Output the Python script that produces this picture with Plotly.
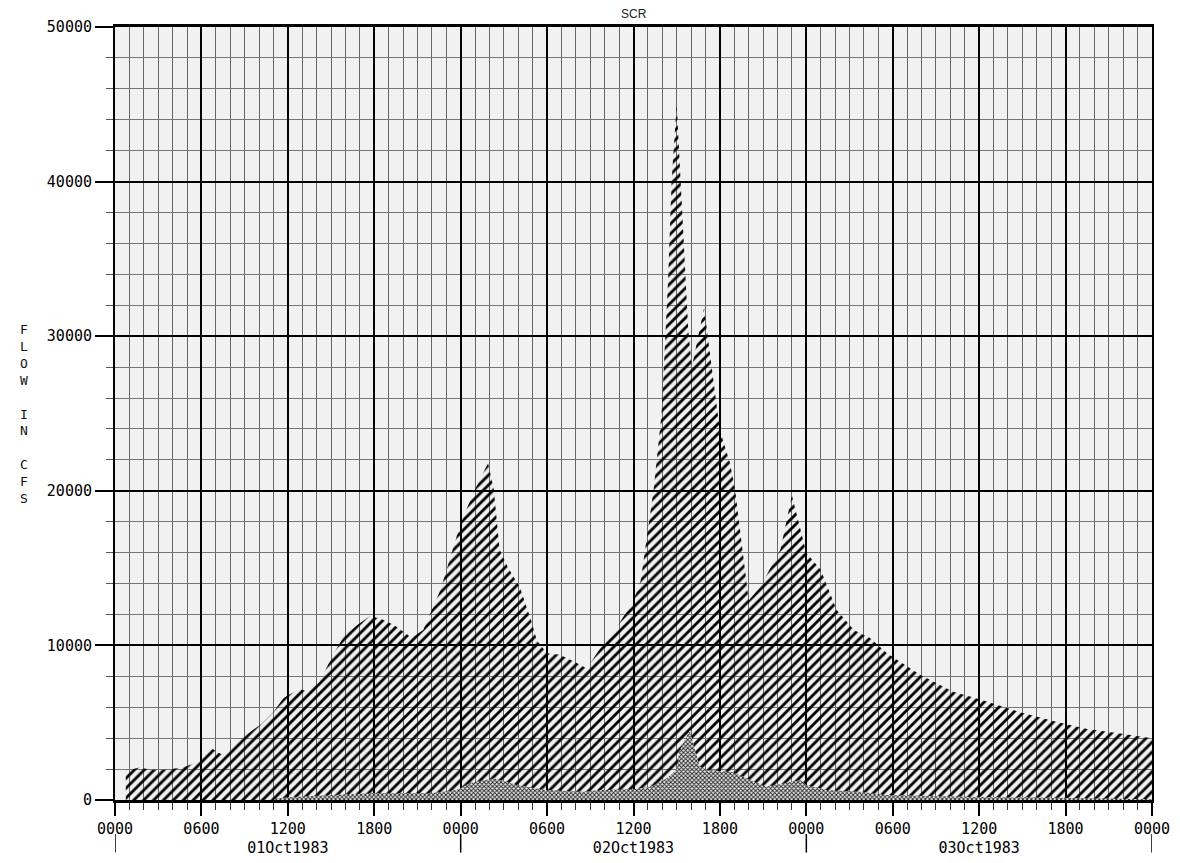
import plotly.graph_objects as go

# ---- data (hours after 0000 01Oct1983, flow in cfs) ----
total_hours = [0.75, 1.7, 2.5, 3.5, 4.3, 5.0, 5.7, 6.7, 7.5, 8.3, 9.1, 10.2, 11.0, 11.7,
               12.8, 13.4, 14.2, 15.2, 15.9, 16.8, 17.7, 18.5, 19.4, 20.6, 21.4, 22.6,
               24.0, 24.9, 25.9, 26.3, 26.7, 27.3, 28.1, 28.9, 29.3, 30.0, 30.9, 32.0,
               32.75, 33.9, 34.6, 36.0, 36.5, 37.4, 37.95, 38.2, 38.4, 38.65, 39.0,
               39.8, 40.05, 40.9, 41.55, 42.0, 42.7, 43.05, 44.0, 44.8, 46.2, 47.0,
               48.0, 49.0, 50.1, 51.3, 52.4, 53.6, 55.9, 58.2, 60.1, 62.8, 65.2, 67.5,
               69.8, 72.0]
total_flow = [1900, 2100, 1950, 1950, 2050, 2200, 2450, 3350, 2900, 3600, 4200, 4950, 5700, 6600,
              7200, 7000, 7650, 9500, 10600, 11300, 11900, 11700, 11300, 10500, 11000, 13600,
              17900, 19900, 21800, 20100, 16200, 15000, 13800, 11600, 10300, 9500, 9400, 8900,
              8500, 10100, 10800, 12900, 14200, 20100, 25000, 29300, 33600, 40100, 45000,
              30400, 28000, 31800, 27200, 23900, 21800, 20100, 12900, 13800, 16200, 19700,
              16000, 14900, 12300, 11000, 10500, 9500, 8100, 7000, 6500, 5700, 5100, 4600,
              4300, 4000]

local_hours = [11.0, 11.2, 12.2, 15.6, 17.7, 21.9, 23.7, 24.65, 25.6, 26.3, 27.9, 29.9,
               32.5, 33.7, 36.0, 37.2, 38.3, 39.0, 39.2, 39.9, 40.6, 41.1, 42.9, 43.9,
               45.2, 47.6, 48.0, 49.4, 51.7, 53.6, 60.0, 68.9, 72.0]
local_flow = [0, 100, 200, 320, 430, 430, 650, 1100, 1300, 1400, 970, 650,
              540, 650, 700, 860, 1400, 1950, 3200, 4500, 2150, 1950, 1800, 1400,
              860, 1300, 970, 650, 540, 320, 200, 100, 50]

tick_hours = [0, 6, 12, 18, 24, 30, 36, 42, 48, 54, 60, 66, 72]
tick_labels = ["0000", "0600", "1200<br>01Oct1983", "1800",
               "0000", "0600", "1200<br>02Oct1983", "1800",
               "0000", "0600", "1200<br>03Oct1983", "1800", "0000"]
day_bounds = [0, 24, 48, 72]

title_text = "SCR"
ylabel_text = "F<br>L<br>O<br>W<br><br>I<br>N<br><br>C<br>F<br>S"

mono = "DejaVu Sans Mono"

fig = go.Figure()

fig.add_trace(go.Scatter(
    x=total_hours, y=total_flow, mode="lines", fill="tozeroy",
    line=dict(width=0, color="black"),
    fillcolor="rgba(0,0,0,0)",
    fillpattern=dict(shape="/", size=7, solidity=0.4, fgcolor="black",
                     fgopacity=1, fillmode="overlay"),
    hoverinfo="x+y", showlegend=False))

fig.add_trace(go.Scatter(
    x=local_hours, y=local_flow, mode="lines", fill="tozeroy",
    line=dict(width=0, color="#444"),
    fillcolor="#e4e4e4",
    fillpattern=dict(shape="x", size=3, solidity=0.5, fgcolor="#222",
                     bgcolor="#e8e8e8", fillmode="replace"),
    hoverinfo="x+y", showlegend=False))

# long ticks at day boundaries below the labels
for d in day_bounds:
    fig.add_shape(type="line", xref="x", yref="y domain",
                  x0=d, x1=d, y0=-0.044, y1=-0.068,
                  line=dict(color="black", width=1.5))

fig.add_annotation(text=title_text, xref="paper", yref="paper",
                   x=0.5, y=1.017, yanchor="middle", showarrow=False,
                   font=dict(family="Liberation Sans, Arial", size=12, color="#222"))
fig.add_annotation(text=ylabel_text, xref="paper", yref="paper",
                   x=-0.0935, y=0.5, showarrow=False, align="center",
                   font=dict(family=mono, size=13, color="#111"))

# the page adds an 8px body margin, so the figure is 8px smaller
fig.update_layout(
    width=1172, height=855,
    margin=dict(l=107, r=28, t=19, b=63, autoexpand=False),
    paper_bgcolor="white", plot_bgcolor="#f1f1f1",
    font=dict(family=mono, size=15, color="black"),
)

fig.update_xaxes(
    range=[0, 72], tickmode="array", tickvals=tick_hours, ticktext=tick_labels,
    ticks="outside", ticklen=13, tickwidth=1.5, tickcolor="black",
    showline=True, linecolor="black", linewidth=2.5, mirror=True,
    showgrid=True, gridcolor="black", gridwidth=2,
    zeroline=False, automargin=False,
    tickfont=dict(family=mono, size=15, color="black"),
    minor=dict(tickmode="linear", tick0=0, dtick=1, ticks="outside", ticklen=7,
               tickcolor="#333", tickwidth=1, showgrid=True, gridcolor="#666",
               gridwidth=1.3),
)

fig.update_yaxes(
    range=[0, 50000], tickmode="linear", tick0=0, dtick=10000, tickformat="d",
    ticks="outside", ticklen=18, tickwidth=1.5, tickcolor="black",
    showline=True, linecolor="black", linewidth=2, mirror=True,
    showgrid=True, gridcolor="black", gridwidth=1.5,
    zeroline=False, automargin=False,
    tickfont=dict(family=mono, size=15, color="black"),
    minor=dict(tickmode="linear", tick0=0, dtick=2000, ticks="outside", ticklen=7,
               tickcolor="#555", tickwidth=1, showgrid=True, gridcolor="#777",
               gridwidth=1.2),
)

fig.write_html("out.html")
